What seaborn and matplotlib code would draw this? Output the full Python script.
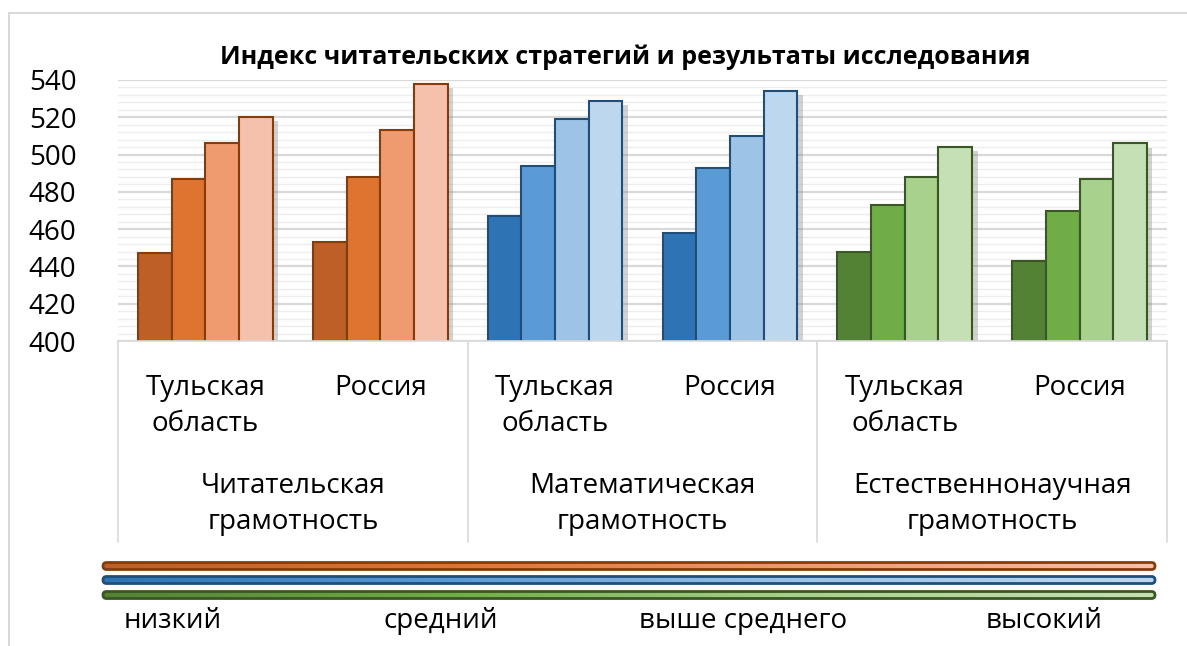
import numpy as np
import pandas as pd
import matplotlib
matplotlib.use("Agg")
import matplotlib.pyplot as plt
import matplotlib.patheffects as pe
from matplotlib.colors import LinearSegmentedColormap
from matplotlib.patches import FancyBboxPatch
from matplotlib.lines import Line2D
from matplotlib.ticker import MultipleLocator
import seaborn as sns

# --- данные ---
subjects = ["Читательская\nграмотность", "Математическая\nграмотность", "Естественнонаучная\nграмотность"]
regions = ["Тульская\nобласть", "Россия"]
levels = ["низкий", "средний", "выше среднего", "высокий"]

reading_tula = [447, 487, 506, 520]
reading_russia = [453, 488, 513, 538]
math_tula = [467, 494, 519, 529]
math_russia = [458, 493, 510, 534]
science_tula = [448, 473, 488, 504]
science_russia = [443, 470, 487, 506]

title = "Индекс читательских стратегий и результаты исследования"

# цвета по предметам (от тёмного к светлому)
shades = [
    ["#BD5F26", "#DF7430", "#F09A70", "#F5C0AC"],
    ["#2E74B5", "#5B9BD5", "#9DC3E6", "#BDD7EE"],
    ["#548235", "#70AD47", "#A9D18E", "#C5E0B4"],
]
edges = ["#843C0C", "#1F4E79", "#385723"]

values = [[reading_tula, reading_russia], [math_tula, math_russia], [science_tula, science_russia]]

rows = []
for si, subj in enumerate(subjects):
    for ri, reg in enumerate(regions):
        for li, lev in enumerate(levels):
            rows.append({"subject": si, "group": f"{si}-{ri}", "level": lev,
                         "value": values[si][ri][li]})
df = pd.DataFrame(rows)
order = [f"{si}-{ri}" for si in range(3) for ri in range(2)]

sns.set_theme(style="white")
plt.rcParams["font.family"] = ["Open Sans", "DejaVu Sans"]
plt.rcParams["text.color"] = "black"

W, H = 1187, 646
fig = plt.figure(figsize=(W / 100, H / 100), dpi=100)
fig.patch.set_facecolor("white")


def fx(px):
    return px / W


def fy(py):
    return 1 - py / H


ax = fig.add_axes([fx(118), fy(341), fx(1167) - fx(118), fy(80) - fy(341)])

for si in range(3):
    sub = df[df["subject"] == si]
    sns.barplot(data=sub, x="group", y="value", hue="level", order=order,
                hue_order=levels, palette=shades[si], width=0.77, saturation=1,
                edgecolor=edges[si], linewidth=1.5, legend=False, ax=ax)

for p in ax.patches:
    p.set_path_effects([pe.SimplePatchShadow(offset=(4, -3), shadow_rgbFace="#808080", alpha=0.35),
                        pe.Normal()])

ax.set_ylim(400, 540)
ax.set_xlim(-0.5, 5.5)
ax.yaxis.set_major_locator(MultipleLocator(20))
ax.yaxis.set_minor_locator(MultipleLocator(4))
ax.set_axisbelow(True)
ax.grid(which="major", axis="y", color="#D9D9D9", lw=1.6)
ax.grid(which="minor", axis="y", color="#EDEDED", lw=1.0)
for s in ["left", "right", "top"]:
    ax.spines[s].set_visible(False)
ax.spines["bottom"].set_color("#D9D9D9")
ax.spines["bottom"].set_linewidth(1.2)
ax.tick_params(axis="y", which="both", length=0, labelsize=20, pad=30, labelcolor="black")
ax.set_xlabel("")
ax.set_ylabel("")

# подписи регионов
ax.set_xticks(range(6), labels=regions * 3)
ax.tick_params(axis="x", length=0, labelsize=20, pad=24, labelcolor="black")
for t in ax.get_xticklabels():
    t.set_linespacing(1.35)
    t.set_va("top")

# подписи предметов и разделители
trans = ax.get_xaxis_transform()
ax_h = 261
for si, subj in enumerate(subjects):
    ax.annotate(subj, xy=(2 * si + 0.5, 0), xycoords=trans, xytext=(0, -(504 - 341)),
                textcoords="offset pixels", ha="center", va="center", fontsize=20,
                linespacing=1.35, color="black", annotation_clip=False)
for xs in [-0.5, 1.5, 3.5, 5.5]:
    ax.plot([xs, xs], [0, -(542 - 341) / ax_h], transform=trans, color="#D9D9D9",
            lw=1.2, clip_on=False)

# заголовок
fig.text(fx(625), fy(57), title, ha="center", va="center", fontsize=18,
         fontweight="bold", color="black")

# рамка диаграммы
fig.add_artist(Line2D([fx(9.5), fx(9.5)], [0, fy(13)], color="#D9D9D9", lw=1.5))
fig.add_artist(Line2D([fx(9.5), 1], [fy(13), fy(13)], color="#D9D9D9", lw=1.5))

# градиентная легенда
lax = fig.add_axes([fx(100), fy(603), fx(1158) - fx(100), fy(559) - fy(603)])
lax.set_xlim(100, 1158)
lax.set_ylim(603, 559)
lax.axis("off")
grad = np.linspace(0, 1, 256).reshape(1, -1)
for si, yc in enumerate([566, 580, 595]):
    cmap = LinearSegmentedColormap.from_list(f"g{si}", shades[si])
    box = FancyBboxPatch((103, yc - 3.5), 1052, 7, boxstyle="round,pad=0,rounding_size=3.5",
                         facecolor="none", edgecolor=edges[si], lw=2.0, zorder=3)
    lax.add_patch(box)
    im = lax.imshow(grad, aspect="auto", cmap=cmap, extent=[103, 1155, yc + 3.5, yc - 3.5],
                    zorder=2)
    im.set_clip_path(box)

for lab, xc in zip(levels, [173, 441, 743, 1044]):
    fig.text(fx(xc), fy(621), lab, ha="center", va="center", fontsize=20, color="black")

fig.savefig("out.png", dpi=100, facecolor="white")
